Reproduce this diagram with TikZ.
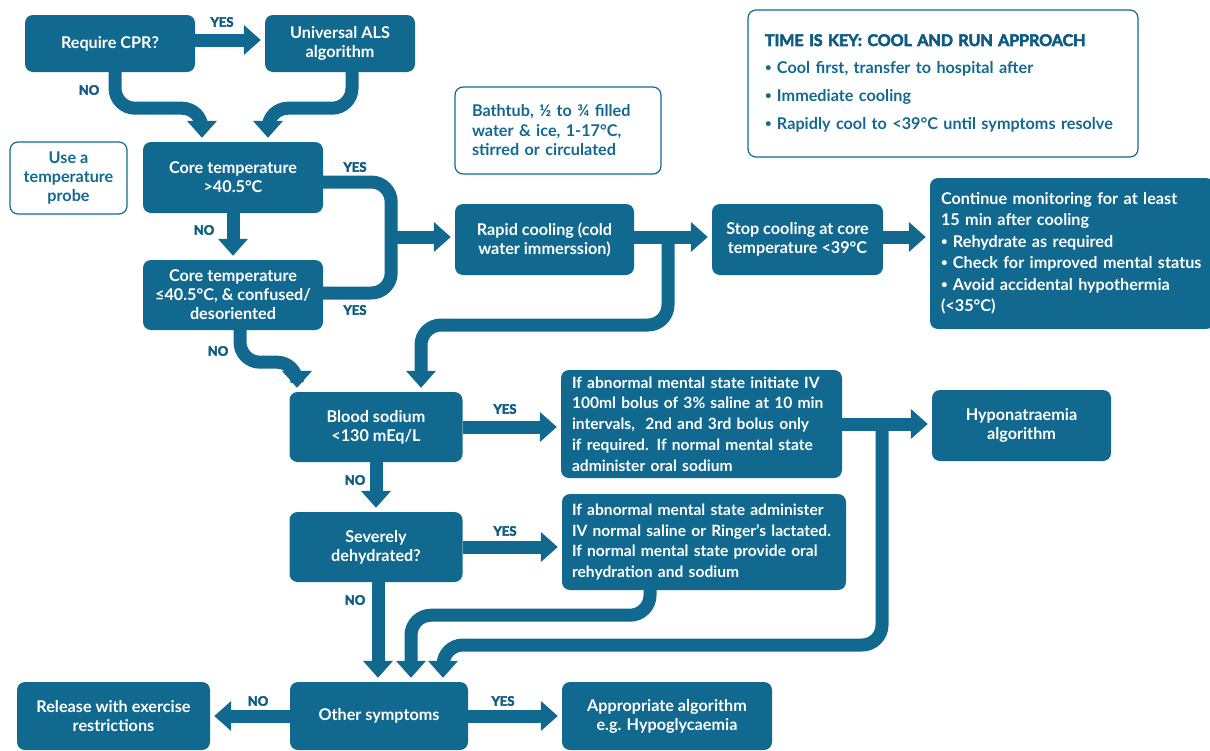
\documentclass[tikz,border=0pt]{standalone}
\usepackage{fontspec}
\setmainfont{Lato}
\newfontfamily\heavyfont{Lato}[BoldFeatures={FakeBold=3.5}]
\usepackage{tikz}
\usetikzlibrary{arrows.meta,positioning,calc}
\definecolor{hsblue}{HTML}{12698F}
\definecolor{hsdark}{HTML}{0E5C82}
\newcommand{\boxfont}{\fontsize{16.2}{19}\selectfont\bfseries}
\newcommand{\ynfont}{\heavyfont\fontsize{13}{14}\selectfont\bfseries}
\newcommand{\dotmark}{\raisebox{0.15em}{\scalebox{0.7}{\textbullet}}}
\newcommand{\bitem}[1]{\par\hangindent=11pt\hangafter=1\dotmark\ #1}

\begin{document}
\begin{tikzpicture}[
  x=1pt, y=-1pt,
  every node/.style={inner sep=0pt},
  box/.style={fill=hsblue, text=white, rounded corners=8pt, align=center, font=\boxfont},
  note/.style={draw=hsblue, line width=1.2pt, text=hsblue, rounded corners=8pt, font=\boxfont},
  pipe/.style={draw=hsblue, line width=13pt, rounded corners=20pt},
  flow/.style={pipe, -{Triangle[width=29pt,length=17pt]}, shorten >=4pt},
  yn/.style={text=hsdark, font=\ynfont}
]
  \useasboundingbox (0,0) rectangle (1210,750);

  % decision boxes
  \node[box, minimum width=170pt, minimum height=57pt] (cpr) at (110,43.5) {Require CPR?};
  \node[box, minimum width=150pt, minimum height=57pt] (als) at (340,43.5) {Universal ALS\\algorithm};
  \node[box, minimum width=180pt, minimum height=71pt] (core) at (233,177.5) {Core temperature\\>40.5°C};
  \node[box, minimum width=180pt, minimum height=70pt] (conf) at (233,295) {Core temperature\\≤40.5°C, \& confused/\\desoriented};
  \node[box, minimum width=179pt, minimum height=71pt] (rapid) at (544.5,239.5) {Rapid cooling (cold\\water immerssion)};
  \node[box, minimum width=171pt, minimum height=71pt] (stop) at (797.5,239.5) {Stop cooling at core\\temperature <39°C};
  \node[box, minimum width=284pt, minimum height=151pt, align=left, text width=262pt,
        font=\fontsize{16.2}{21.5}\selectfont\bfseries] (cont) at (1072,253.5)
    {Continue monitoring for at least\\15 min after cooling
     \bitem{Rehydrate as required}
     \bitem{Check for improved mental status}
     \bitem{Avoid accidental hypothermia\\(<35°C)}};
  \node[box, minimum width=173pt, minimum height=70pt] (sodium) at (376,427) {Blood sodium\\<130 mEq/L};
  \node[box, minimum width=281pt, minimum height=108pt, align=left, text width=259pt,
        font=\fontsize{15.6}{20.8}\selectfont\bfseries] (hypert) at (701.5,424)
    {If abnormal mental state initiate IV\\100ml bolus of 3\% saline at 10 min\\intervals,~ 2nd and 3rd bolus only\\if required. If normal mental state\\administer oral sodium};
  \node[box, minimum width=179pt, minimum height=71pt] (hypo) at (1021.5,425.5) {Hyponatraemia\\algorithm};
  \node[box, minimum width=173pt, minimum height=70pt] (dehyd) at (376,547) {Severely\\dehydrated?};
  \node[box, minimum width=284pt, minimum height=96pt, align=left, text width=264pt,
        font=\fontsize{15.6}{20.8}\selectfont\bfseries] (rehyd) at (704,542)
    {If abnormal mental state administer\\IV normal saline or Ringer’s lactated.\\If normal mental state provide oral\\rehydration and sodium};
  \node[box, minimum width=178pt, minimum height=68pt] (other) at (379,716) {Other symptoms};
  \node[box, minimum width=193pt, minimum height=68pt] (release) at (113.5,716) {Release with exercise\\restrictions};
  \node[box, minimum width=210pt, minimum height=68pt] (approp) at (667,716) {Appropriate algorithm\\e.g. Hypoglycaemia};

  % notes
  \node[note, minimum width=117pt, minimum height=72pt, align=center] (probe) at (68.5,178) {Use a\\temperature\\probe};
  \node[note, minimum width=206pt, minimum height=87pt, align=left, text width=172pt,
        font=\fontsize{16.2}{19.5}\selectfont\bfseries] (bath) at (558,130.5)
    {Bathtub, ½ to ¾ filled\\water \& ice, 1-17°C,\\stirred or circulated};
  \node[note, minimum width=390pt, minimum height=147pt, align=left, text width=356pt,
        font=\fontsize{16.2}{28}\selectfont\bfseries] (key) at (943,83.5)
    {{\color{hsdark}\heavyfont\fontsize{16}{28}\selectfont\bfseries TIME IS KEY: COOL AND RUN APPROACH}
     \bitem{Cool first, transfer to hospital after}
     \bitem{Immediate cooling}
     \bitem{Rapidly cool to <39°C until symptoms resolve}};

  % connectors
  \coordinate (cprout) at ([yshift=3.5]cpr.east);
  \draw[flow] (cprout) -- (als.west |- cprout);
  \draw[flow] ([xshift=5]cpr.south) -- ++(0,36) -| ([xshift=-31]core.north);
  \draw[flow] ([xshift=12]als.south) -- ++(0,36) -| ([xshift=35]core.north);
  \draw[flow] (core.south) -- (conf.north);
  \draw[pipe] ([yshift=-4.5]core.east) -- ++(68,0) |- ([yshift=2]conf.east);
  \coordinate (hot) at (391,237);
  \draw[flow] (hot) -- (rapid.west |- hot);
  \draw[flow] ([xshift=7]conf.south) -- ++(0,32) -| ([xshift=-79]sodium.north);
  \draw[flow] (rapid.east |- hot) -- (stop.west |- hot);
  \coordinate (cooled) at (668,237);
  \draw[flow] (cooled) -- (668,325) -| ([xshift=45]sodium.north);
  \draw[flow] (stop.east |- hot) -- (cont.west |- hot);
  \draw[flow] (sodium.east) -- (hypert.west |- sodium.east);
  \draw[flow] (hypert.east) -- (hypo.west |- hypert.east);
  \coordinate (iv) at (882,424);
  \draw[flow] (iv) -- (882,645) -| ([xshift=64]other.north);
  \draw[flow] (sodium.south) -- (dehyd.north);
  \draw[flow] (dehyd.east) -- (rehyd.west |- dehyd.east);
  \draw[flow] ([xshift=2]dehyd.south) -- ([xshift=2]dehyd.south |- other.north);
  \draw[flow] ([xshift=-54]rehyd.south) -- ++(0,25) -| ([xshift=32]other.north);
  \draw[flow] (other.west) -- (release.east);
  \draw[flow] (other.east) -- (approp.west);

  % yes / no labels
  \node[yn] (y1) at (222,22) {YES};
  \node[yn] (n1) at (89,90) {NO};
  \node[yn] (y2) at (355,167) {YES};
  \node[yn] (n2) at (204,230) {NO};
  \node[yn] (y3) at (355,310) {YES};
  \node[yn] (n3) at (218,351) {NO};
  \node[yn] (y4) at (505,409) {YES};
  \node[yn] (n4) at (355,480) {NO};
  \node[yn] (y5) at (505,531) {YES};
  \node[yn] (n5) at (355,600) {NO};
  \node[yn] (n6) at (258,701) {NO};
  \node[yn] (y6) at (503,701) {YES};
\end{tikzpicture}
\end{document}
